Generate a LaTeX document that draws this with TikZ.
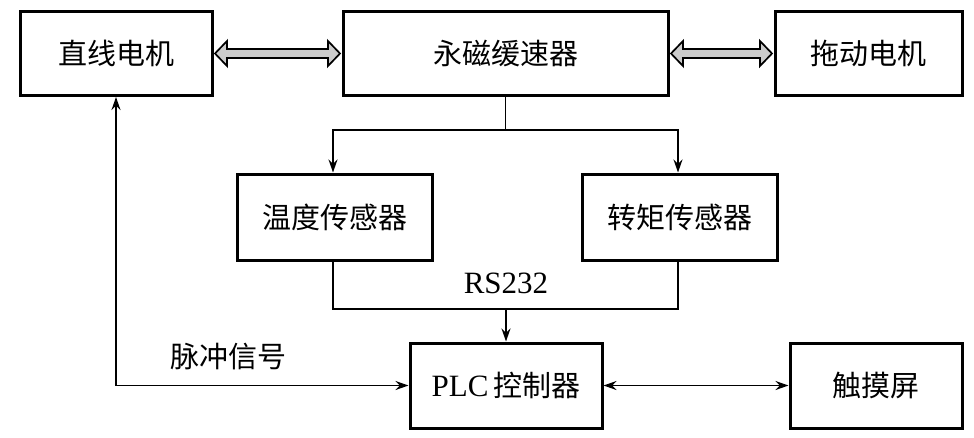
\documentclass[tikz,border=0pt]{standalone}
\usepackage{fontspec}
\setmainfont{Liberation Serif}
\newfontfamily\cjk{Noto Sans CJK SC}
\usetikzlibrary{arrows.meta,calc}
\tikzset{
  blk/.style={draw, line width=3pt, inner sep=0pt, minimum height=84pt, font=\fontsize{29}{34}\selectfont\cjk},
  conn/.style={line width=1.7pt},
  tip/.style={-{Stealth[length=13pt,width=9pt]}},
  hollow/.style={draw, line width=1.7pt, fill=black!20, line join=miter}
}
\begin{document}
\begin{tikzpicture}[x=1pt,y=-1pt]
\useasboundingbox (0,0) rectangle (974,437);
\node[blk, minimum width=192pt] (A) at (116,53.5) {直线电机};
\node[blk, minimum width=325pt] (B) at (505.5,53.5) {永磁缓速器};
\node[blk, minimum width=187pt] (C) at (868.5,53.5) {拖动电机};
\node[blk, minimum width=195pt, minimum height=86pt] (D) at (334.5,217) {温度传感器};
\node[blk, minimum width=195pt, minimum height=86pt] (E) at (679.5,217) {转矩传感器};
\node[blk, minimum width=192pt, minimum height=85pt] (F) at (506,385.5) {{\rmfamily\fontsize{31}{34}\selectfont PLC}\,控制器};
\node[blk, minimum width=172pt, minimum height=85pt] (G) at (876,385.5) {触摸屏};
% hollow double arrows
\coordinate (a1) at ($(A.east)+(1.5,0)$);
\coordinate (b1) at ($(B.west)+(-1.5,0)$);
\path[hollow] (a1) -- ++(12,-12.5) -- ++(0,8) -- ($(b1)+(-12,-4.5)$) -- ++(0,-8) -- (b1) -- ++(-12,12.5) -- ++(0,-8) -- ($(a1)+(12,4.5)$) -- ++(0,8) -- cycle;
\coordinate (b2) at ($(B.east)+(1.5,0)$);
\coordinate (c1) at ($(C.west)+(-1.5,0)$);
\path[hollow] (b2) -- ++(12,-12.5) -- ++(0,8) -- ($(c1)+(-12,-4.5)$) -- ++(0,-8) -- (c1) -- ++(-12,12.5) -- ++(0,-8) -- ($(b2)+(12,4.5)$) -- ++(0,8) -- cycle;
% branch to sensors
\coordinate (br) at (B.south |- 0,130);
\draw[conn] (B.south) -- (br);
\draw[conn, tip] (br) -| ([xshift=-1.5pt]D.north);
\draw[conn, tip] (br) -| ([xshift=-1.5pt]E.north);
% RS232 merge
\coordinate (mg) at (F.north |- 0,309);
\draw[conn] ([xshift=-1.5pt]D.south) |- ([xshift=-1.5pt]E.south |- mg) -- ([xshift=-1.5pt]E.south);
\draw[conn, tip] (mg) -- (F.north);
\node[font=\fontsize{31}{34}\selectfont] (rs) at (506,283) {RS232};
% pulse signal
\draw[conn, {Stealth[length=13pt,width=9pt]}-{Stealth[length=13pt,width=9pt]}] (A.south) |- (F.west);
\node[font=\fontsize{29}{34}\selectfont\cjk] (pl) at (228,357) {脉冲信号};
% PLC to touch screen
\draw[conn, {Stealth[length=13pt,width=9pt]}-{Stealth[length=13pt,width=9pt]}] (F.east) -- (G.west);
\end{tikzpicture}
\end{document}
